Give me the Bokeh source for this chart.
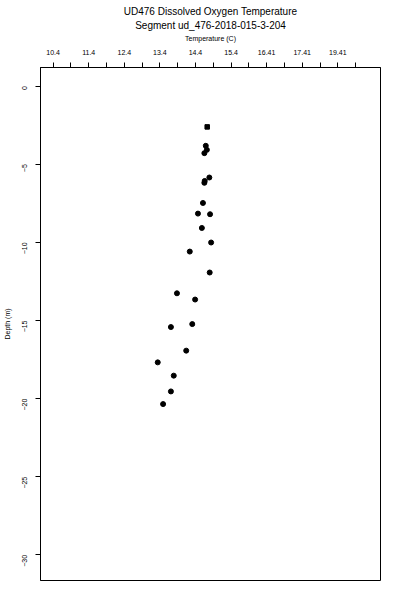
import math
from bokeh.plotting import figure
from bokeh.models import FixedTicker, Title, Range1d
from bokeh.embed import file_html
from bokeh.resources import INLINE

# Data
temperature = [14.73, 14.69, 14.72, 14.65, 14.79, 14.66, 14.65, 14.61, 14.47,
               14.81, 14.58, 14.84, 14.24, 14.80, 13.88, 14.39, 13.71, 14.31,
               14.14, 13.34, 13.79, 13.71, 13.49]
depth = [-2.61, -3.82, -4.08, -4.29, -5.85, -6.07, -6.19, -7.48, -8.16,
         -8.20, -9.08, -10.01, -10.59, -11.93, -13.26, -13.66, -15.42, -15.23,
         -16.93, -17.68, -18.53, -19.54, -20.35]

temp_ticks = [10.4, 11.4, 12.4, 13.4, 14.4, 15.4, 16.4, 17.4, 18.4]
temp_tick_labels = ["10.4", "11.4", "12.4", "13.4", "14.4", "15.4", "16.41", "17.41", "19.41"]
temp_minor_ticks = [10.9, 11.9, 12.9, 13.9, 14.9, 15.9, 16.9, 17.9, 18.9]
depth_ticks = [0, -5, -10, -15, -20, -25, -30]

FONT = "Liberation Sans"

p = figure(width=400, height=600, output_backend="svg", toolbar_location=None,
           x_axis_location="above", y_axis_location="left",
           x_range=Range1d(10.045, 19.6), y_range=Range1d(-31.64, 1.19),
           min_border_left=38, min_border_right=20, min_border_top=67,
           min_border_bottom=20)
p.title.text = ""
p.grid.visible = False
p.outline_line_color = "black"
p.outline_line_width = 1
p.outline_line_alpha = 1
p.background_fill_color = "white"
p.border_fill_color = "white"

xa = p.xaxis[0]
xa.ticker = FixedTicker(ticks=temp_ticks, minor_ticks=temp_minor_ticks)
xa.major_label_overrides = {t: l for t, l in zip(temp_ticks, temp_tick_labels)}
xa.axis_label = "Temperature (C)"
xa.axis_label_text_font = FONT
xa.axis_label_text_font_size = "7px"
xa.axis_label_text_font_style = "normal"
xa.axis_label_text_color = "black"
xa.axis_label_standoff = 5
xa.major_label_text_font = FONT
xa.major_label_text_font_size = "7px"
xa.major_label_text_color = "black"
xa.major_label_standoff = 8
xa.major_tick_out = 5
xa.major_tick_in = 0
xa.minor_tick_out = 5
xa.minor_tick_in = 0
xa.axis_line_color = "black"
xa.major_tick_line_color = "black"
xa.minor_tick_line_color = "black"

ya = p.yaxis[0]
ya.ticker = FixedTicker(ticks=depth_ticks)
ya.axis_label = "Depth (m)"
ya.axis_label_text_font = FONT
ya.axis_label_text_font_size = "7px"
ya.axis_label_text_font_style = "normal"
ya.axis_label_text_color = "black"
ya.axis_label_standoff = 6
ya.major_label_text_font = FONT
ya.major_label_text_font_size = "7px"
ya.major_label_text_color = "black"
ya.major_label_orientation = math.pi / 2
ya.major_label_standoff = 11
ya.major_tick_out = 5
ya.major_tick_in = 0
ya.minor_tick_out = 0
ya.minor_tick_in = 0
ya.axis_line_color = "black"
ya.major_tick_line_color = "black"

p.add_layout(Title(text="Segment ud_476-2018-015-3-204", align="center",
                   text_font=FONT, text_font_size="10px", text_font_style="normal",
                   text_color="black", standoff=1), "above")
p.add_layout(Title(text="UD476 Dissolved Oxygen Temperature", align="center",
                   text_font=FONT, text_font_size="10px", text_font_style="normal",
                   text_color="black", standoff=1), "above")

p.scatter(temperature[:1], depth[:1], marker="square", size=4.5, color="black")
p.scatter(temperature[1:], depth[1:], marker="circle", size=5, color="black")

open("out.html", "w").write(file_html(p, INLINE))
